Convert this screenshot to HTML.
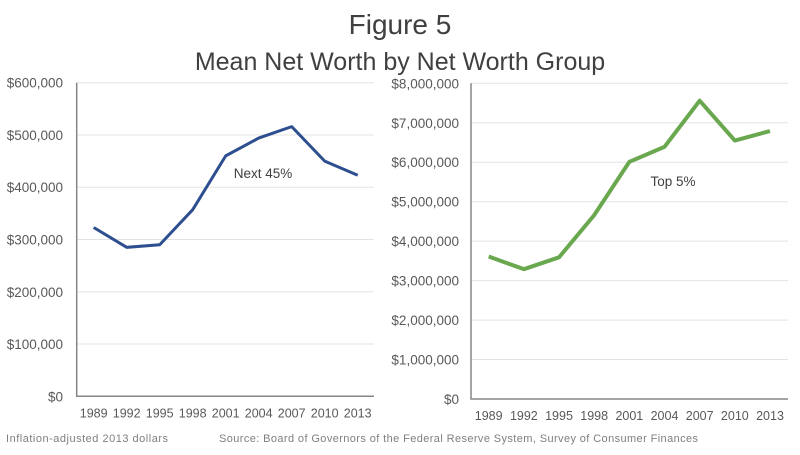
<!DOCTYPE html>
<html><head><meta charset="utf-8"><style>
body{margin:0;background:#fff;width:800px;height:450px;overflow:hidden;font-family:"Liberation Sans",sans-serif}
svg text{font-family:"Liberation Sans",sans-serif}
</style></head><body>
<svg id="s" width="800" height="450">
<text x="400" y="34" text-anchor="middle" font-size="28" fill="#404040">Figure 5</text>
<text x="400" y="70" text-anchor="middle" font-size="25" fill="#404040">Mean Net Worth by Net Worth Group</text>
<text x="6" y="442" font-size="11" fill="#7f7f7f" textLength="162">Inflation-adjusted  2013 dollars</text>
<text x="219" y="442" font-size="11" fill="#7f7f7f" textLength="479">Source: Board of Governors of the Federal Reserve System, Survey of Consumer Finances</text>
</svg>
<script>
const years=["1989","1992","1995","1998","2001","2004","2007","2010","2013"];
const next45=[323000,285000,290000,357000,460000,494000,516000,450000,423000];
const top5=[3610000,3290000,3590000,4660000,6010000,6390000,7560000,6550000,6790000];
const leftTicks=[0,100000,200000,300000,400000,500000,600000];
const rightTicks=[0,1000000,2000000,3000000,4000000,5000000,6000000,7000000,8000000];
const svg=document.getElementById('s');const NS="http://www.w3.org/2000/svg";
function mk(t,a,p){const e=document.createElementNS(NS,t);for(const k in a)e.setAttribute(k,a[k]);(p||svg).appendChild(e);return e;}
function fmt(v){return '$'+v.toLocaleString('en-US');}
function chart(c){
 const g=mk('g',{});
 
 
 const max=c.ticks[c.ticks.length-1];
 const y=v=>c.y0-(v/max)*(c.y0-c.y1);
 const x=i=>c.xa+i*(c.xb-c.xa)/(years.length-1);
 c.ticks.forEach(t=>{
  if(t>0){const l=mk('line',{x1:c.ax,x2:c.ar,y1:y(t),y2:y(t),stroke:'#e3e3e3','stroke-width':1},g);
  
  }
  const tx=mk('text',{x:c.lx,y:y(t)+5,'text-anchor':'end','font-size':13.5,fill:'#595959'},g);tx.textContent=fmt(t);
  
  
 });
 const ax=mk('path',{d:`M${c.ax} ${c.y1}V${c.y0}H${c.ar}`,fill:'none',stroke:'#868686','stroke-width':1.5},g);
 
 
 years.forEach((yr,i)=>{const t=mk('text',{x:x(i),y:c.y0+21,'text-anchor':'middle','font-size':12.5,fill:'#595959'},g);t.textContent=yr;
  
  });
 const p=mk('polyline',{points:c.vals.map((v,i)=>x(i)+','+y(v)).join(' '),fill:'none',stroke:c.color,'stroke-width':c.w,'stroke-linejoin':'round'},g);
 
 
 const lb=mk('text',{x:c.labx,y:c.laby,'text-anchor':'middle','font-size':13.5,fill:'#404040'},g);lb.textContent=c.label;
 
 
}
chart({name:'next-45-chart',ticks:leftTicks,vals:next45,y0:396.3,y1:82.7,ax:76.7,ar:374,xa:93.7,xb:357.7,lx:63,color:'#2e4f8f',w:3,label:'Next 45%',labx:263,laby:178});
chart({name:'top-5-chart',ticks:rightTicks,vals:top5,y0:399,y1:83.3,ax:471,ar:788,xa:488.7,xb:770,lx:459,color:'#6aa84f',w:4,label:'Top 5%',labx:673,laby:186});
</script>
</body></html>
